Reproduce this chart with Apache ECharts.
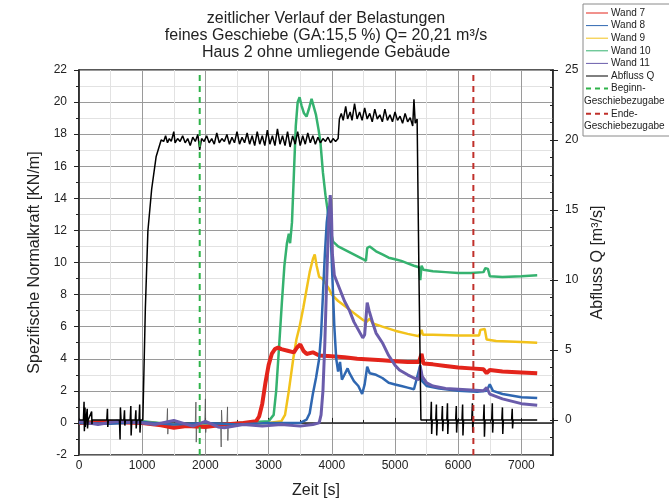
<!DOCTYPE html>
<html>
<head>
<meta charset="utf-8">
<script src="https://cdn.jsdelivr.net/npm/echarts@6/dist/echarts.min.js"></script>
<style>
  html, body { margin: 0; background: #fff; }
  #chart { width: 669px; height: 504px; }
</style>
</head>
<body>
<div id="chart"></div>
<script>
// zeit [s], werte links in KN/m, Abfluss rechts in m³/s
const wand7 = [[0,0],[500,0.05],[1000,0],[1300,-0.15],[1500,-0.3],[1700,-0.2],[2000,-0.25],[2300,-0.1],[2600,0],[2800,0.1],[2850,0.4],[2900,1.2],[2950,2.5],[3000,3.6],[3050,4.3],[3100,4.6],[3150,4.7],[3200,4.6],[3300,4.5],[3400,4.4],[3450,4.7],[3500,4.9],[3550,4.5],[3600,4.3],[3700,4.4],[3800,4.2],[4000,4.15],[4200,4.1],[4400,4.0],[4600,3.95],[4800,3.9],[5000,3.85],[5200,3.8],[5380,3.8],[5420,4.3],[5450,3.7],[5600,3.65],[5800,3.55],[6000,3.45],[6200,3.4],[6400,3.35],[6450,3.1],[6500,3.3],[6700,3.2],[7000,3.15],[7250,3.1]];
const wand8 = [[0,0],[500,-0.05],[1000,0.05],[1500,-0.1],[2000,0],[2500,-0.1],[3000,0],[3500,0],[3600,0.2],[3650,0.6],[3700,1.8],[3750,2.8],[3800,4],[3830,5.5],[3860,8],[3890,10.5],[3920,12.5],[3950,13.5],[3980,12],[4010,9],[4040,6],[4070,4],[4100,3.2],[4130,3.8],[4160,2.7],[4200,3.0],[4250,3.4],[4280,3.1],[4350,2.6],[4420,2.3],[4480,1.8],[4520,2.4],[4560,3.5],[4600,3.1],[4700,3.0],[4800,2.8],[4900,2.5],[5000,2.4],[5100,2.3],[5200,2.2],[5300,2.1],[5400,3.6],[5430,2.6],[5500,2.3],[5700,2.15],[6000,2.0],[6300,1.95],[6450,2.0],[6500,2.4],[6550,2.0],[6700,1.8],[7000,1.6],[7250,1.55]];
const wand9 = [[0,0],[1000,0.05],[1500,-0.1],[2000,-0.15],[2500,-0.05],[3000,0],[3200,0.1],[3260,0.5],[3320,2],[3390,4],[3440,5.2],[3490,6],[3550,7.2],[3600,8.3],[3650,9.4],[3700,10.2],[3730,10.5],[3760,9.8],[3800,9.1],[3850,9.0],[3900,8.7],[3950,8.4],[4000,8.0],[4100,7.6],[4200,7.3],[4300,7.0],[4400,6.7],[4500,6.4],[4550,6.3],[4600,6.5],[4650,6.2],[4800,6.0],[5000,5.75],[5200,5.55],[5380,5.4],[5420,5.8],[5440,5.5],[5600,5.5],[6000,5.45],[6330,5.45],[6350,5.8],[6420,5.85],[6450,5.2],[6600,5.1],[7000,5.05],[7250,5.0]];
const wand10 = [[0,0.1],[500,0.05],[1000,0.1],[1500,-0.1],[2000,-0.2],[2500,0],[3000,0.1],[3080,0.5],[3120,2],[3170,5],[3210,7.5],[3250,9.8],[3290,11.2],[3320,11.8],[3340,11.2],[3370,12.5],[3400,15.5],[3430,18.5],[3460,20],[3490,20.3],[3520,19.8],[3560,19.3],[3600,19.1],[3640,19.6],[3680,20.2],[3710,20.1],[3750,19.2],[3790,18.3],[3820,17.5],[3860,15.6],[3900,14.2],[3940,13.1],[3980,12],[4020,11.3],[4100,11.0],[4200,10.8],[4300,10.6],[4400,10.4],[4500,10.2],[4540,10.1],[4560,10.9],[4600,11],[4700,10.7],[4800,10.5],[4900,10.3],[5000,10.2],[5100,10.1],[5200,9.95],[5300,9.8],[5380,9.7],[5400,8.9],[5420,9.8],[5450,9.55],[5600,9.45],[5800,9.4],[6000,9.35],[6200,9.35],[6400,9.4],[6430,9.65],[6470,9.6],[6500,9.15],[6700,9.1],[7000,9.15],[7250,9.2]];
const wand11 = [[0,0.1],[300,-0.1],[600,0.1],[1000,0],[1200,-0.1],[1500,0.15],[1800,-0.2],[2000,0.1],[2200,-0.25],[2300,-0.3],[2600,-0.1],[2900,-0.2],[3200,-0.1],[3500,-0.2],[3700,-0.1],[3800,0],[3830,0.5],[3860,2],[3890,5],[3920,9],[3950,12.5],[3975,14.2],[3995,13],[4010,10.5],[4040,9.2],[4080,8.8],[4150,8.1],[4200,7.6],[4280,7.0],[4350,6.3],[4420,5.8],[4490,5.3],[4520,5.5],[4560,7.5],[4590,7.0],[4650,6.2],[4700,5.6],[4800,5.0],[4900,4.2],[5000,3.6],[5070,3.3],[5200,3.0],[5300,2.8],[5380,2.7],[5400,3.5],[5430,2.9],[5500,2.5],[5600,2.3],[5800,2.15],[6000,2.1],[6200,2.05],[6400,2.0],[6450,2.2],[6500,1.8],[6700,1.5],[7000,1.2],[7250,1.1]];
// dünne Ausreißer im Grundrauschen (links, KN/m)
const spikes = [[1390,0],[1400,0.9],[1405,-0.7],[1415,0],[1840,0],[1850,1.3],[1855,-1.2],[1865,0],[1990,0],[2000,1.5],[2005,-0.6],[2015,0],[2240,0],[2250,-1.5],[2255,0.8],[2265,0],[2340,0],[2350,1.0],[2355,-1.1],[2365,0]];
const abflussQ = [[0,0],[70,0],[80,1.3],[85,-0.8],[95,0.9],[100,-0.5],[110,0],[130,0.8],[135,-0.6],[145,0],[200,0.6],[205,-0.3],[210,0],[440,0],[450,0.8],[455,-0.5],[465,0],[640,0],[650,-1.4],[655,0.9],[665,0],[710,0],[720,0.7],[725,-0.4],[735,0],[810,0],[820,1.0],[825,-1.1],[835,0],[890,0],[900,0.7],[905,-0.6],[915,0],[950,0],[960,1.1],[965,-0.9],[975,0],[1010,0],
  [1050,8],[1090,13.5],[1150,16.5],[1220,18.8],[1300,20.0],
  [1340,19.9],[1370,20.3],[1400,19.8],[1430,20.1],[1460,19.9],[1500,20.6],[1520,19.8],[1560,20.1],[1600,19.9],[1640,20.3],[1680,19.8],[1720,20.1],[1760,19.6],[1800,20.2],[1840,19.9],[1880,20.4],[1910,19.3],[1940,20.1],[1980,19.9],[2020,20.3],[2060,19.8],[2100,20.1],[2140,19.7],[2180,20.5],[2220,19.8],[2260,20.1],[2300,19.9],[2340,20.4],[2380,19.7],[2420,20.2],[2460,19.8],[2500,20.6],[2540,19.7],[2580,20.2],[2620,19.8],[2660,20.5],[2700,19.7],[2740,20.3],[2780,19.6],[2820,20.6],[2860,19.7],[2900,20.3],[2940,19.6],[2980,20.7],[3020,19.7],[3060,20.3],[3100,19.6],[3140,20.8],[3180,19.7],[3220,20.3],[3260,19.6],[3300,20.6],[3340,19.5],[3380,20.3],[3420,19.7],[3460,20.6],[3500,19.6],[3540,20.3],[3580,19.7],[3620,20.5],[3660,19.8],[3700,20.3],[3740,19.7],[3780,20.2],[3820,19.8],[3860,20.1],[3900,19.9],[3940,20.2],[3980,19.8],[4020,20.1],[4060,19.9],[4100,20.1],
  [4120,21.5],[4150,21.9],[4180,21.4],[4220,22.4],[4250,21.5],[4290,22.0],[4320,21.4],[4360,22.6],[4400,21.5],[4440,22.0],[4480,21.4],[4520,22.3],[4560,21.5],[4600,21.9],[4640,21.3],[4680,22.2],[4720,21.5],[4760,21.8],[4800,21.3],[4840,22.2],[4880,21.4],[4920,21.8],[4960,21.3],[5000,22.0],[5040,21.4],[5080,21.7],[5120,21.2],[5160,21.9],[5200,21.3],[5240,21.6],[5280,21.0],[5300,22.9],[5320,21.2],[5350,21.5],[5380,10],[5410,0],
  [5565,0],[5575,1.3],[5580,-1.0],[5590,0],[5645,0],[5655,1.1],[5660,-1.1],[5670,0],[5740,0],[5750,1.0],[5755,-0.8],[5765,0],[5820,0],[5830,1.2],[5835,-1.0],[5845,0],[5960,0],[5970,1.0],[5975,-0.9],[5985,0],[6060,0],[6070,1.1],[6075,-1.1],[6085,0],[6215,0],[6225,1.2],[6230,-0.9],[6240,0],[6400,0],[6410,1.1],[6415,-1.2],[6425,0],[6530,0],[6540,1.2],[6545,-0.9],[6555,0],[6690,0],[6700,0.9],[6705,-1.0],[6715,0],[6845,0],[6855,0.8],[6860,-0.6],[6870,0],[7250,0]];
const beginnX = 1910;
const endeX = 6240;
const beginnLine = [[beginnX,-2],[beginnX,22]];
const endeLine = [[endeX,-2],[endeX,22]];
const qTicks = [0,5,10,15,20,25];

const font = 'Liberation Sans, Arial, sans-serif';
const colors = {
  w7: '#e3241b', w8: '#2f67b1', w9: '#f2c21b', w10: '#35b26f', w11: '#6a5cab',
  q: '#000000', beginn: '#2fb34a', ende: '#c0302b', spikes: '#555555'
};

const legendRows = [
  { text: 'Wand 7', color: colors.w7 },
  { text: 'Wand 8', color: colors.w8 },
  { text: 'Wand 9', color: colors.w9 },
  { text: 'Wand 10', color: colors.w10 },
  { text: 'Wand 11', color: colors.w11 },
  { text: 'Abfluss Q', color: colors.q },
  { text: 'Beginn-', color: colors.beginn, dash: true },
  { text: 'Geschiebezugabe', wrap: true },
  { text: 'Ende-', color: colors.ende, dash: true },
  { text: 'Geschiebezugabe', wrap: true }
];

function buildLegend() {
  const x0 = 583, y0 = 4, rowH = 12.6;
  const children = [{
    type: 'rect',
    shape: { x: x0, y: y0, width: 100, height: rowH * legendRows.length + 6 },
    style: { fill: '#fff', stroke: '#8a8a8a', lineWidth: 1 }
  }];
  legendRows.forEach((r, i) => {
    const y = y0 + 9 + i * rowH;
    if (!r.wrap) {
      children.push({
        type: 'line',
        shape: { x1: x0 + 3, y1: y, x2: x0 + 25, y2: y },
        style: { stroke: r.color, lineWidth: r.dash ? 2 : 1, lineDash: r.dash ? [5, 4] : null }
      });
    }
    children.push({
      type: 'text',
      x: r.wrap ? x0 + 1 : x0 + 28, y: y,
      style: { text: r.text, font: '10px ' + font, fill: '#222', verticalAlign: 'middle' }
    });
  });
  return [{ type: 'group', children: children }];
}

function line(name, data, color, width, yAxisIndex) {
  return {
    name: name, type: 'line', data: data, yAxisIndex: yAxisIndex || 0,
    showSymbol: false, symbol: 'none', animation: false,
    lineStyle: { color: color, width: width }, itemStyle: { color: color }
  };
}

const chart = echarts.init(document.getElementById('chart'));
chart.setOption({
  animation: false,
  textStyle: { fontFamily: font },
  title: {
    text: 'zeitlicher Verlauf der Belastungen\nfeines Geschiebe (GA:15,5 %) Q= 20,21 m³/s\nHaus 2 ohne umliegende Gebäude',
    left: 321, top: 5, textAlign: 'center',
    textStyle: { fontSize: 16, fontWeight: 'normal', color: '#222', lineHeight: 17, fontFamily: font }
  },
  grid: { left: 79, right: 116, top: 70, bottom: 48, show: true, borderColor: '#222', borderWidth: 1.5 },
  xAxis: {
    type: 'value', min: 0, max: 7500, interval: 1000,
    name: 'Zeit [s]', nameLocation: 'middle', nameGap: 28,
    nameTextStyle: { fontSize: 16, color: '#222' },
    axisLine: { lineStyle: { color: '#222', width: 1.5 } },
    axisTick: { inside: true, length: 5, lineStyle: { color: '#222' } },
    minorTick: { show: true, splitNumber: 2, length: 3, lineStyle: { color: '#222' } },
    axisLabel: { fontSize: 12, color: '#222', margin: 5, formatter: v => (v % 1000 === 0 ? v : '') },
    splitLine: { lineStyle: { color: '#9a9a9a', width: 1 } },
    minorSplitLine: { show: true, lineStyle: { color: '#e2e2e2', width: 1 } }
  },
  yAxis: [{
    type: 'value', min: -2, max: 22, interval: 2,
    name: 'Spezifische Normalkraft [KN/m]', nameLocation: 'middle', nameGap: 35,
    nameTextStyle: { fontSize: 16, color: '#222' },
    axisLine: { show: true, lineStyle: { color: '#222', width: 1.5 } },
    axisTick: { show: true, length: 5, lineStyle: { color: '#222' } },
    minorTick: { show: true, splitNumber: 2, length: 3, lineStyle: { color: '#222' } },
    axisLabel: { fontSize: 12, color: '#222', margin: 12 },
    splitLine: { lineStyle: { color: '#9a9a9a', width: 1 } },
    minorSplitLine: { show: true, lineStyle: { color: '#e2e2e2', width: 1 } }
  }, {
    type: 'value', position: 'right', min: -2.5, max: 25,
    name: 'Abfluss Q [m³/s]', nameLocation: 'middle', nameGap: 36, nameRotate: 90,
    nameTextStyle: { fontSize: 16, color: '#222' },
    axisLine: { show: true, lineStyle: { color: '#222', width: 1.5 } },
    axisTick: { show: true, length: 5, customValues: qTicks, lineStyle: { color: '#222' } },
    axisLabel: { fontSize: 12, color: '#222', margin: 12, customValues: qTicks },
    splitLine: { show: false }
  }, {
    type: 'value', position: 'right', min: -2.5, max: 25, interval: 1.25,
    axisLine: { show: false },
    axisTick: { show: true, inside: true, length: 3, lineStyle: { color: '#222' } },
    axisLabel: { show: false },
    splitLine: { show: false }
  }],
  graphic: buildLegend(),
  series: [
    line('Ausreißer', spikes, colors.spikes, 0.8),
    line('Wand 10', wand10, colors.w10, 2.5),
    line('Wand 9', wand9, colors.w9, 2.5),
    line('Wand 7', wand7, colors.w7, 4),
    line('Wand 8', wand8, colors.w8, 2.5),
    line('Wand 11', wand11, colors.w11, 3),
    line('Abfluss Q', abflussQ, colors.q, 1.5, 1),
    Object.assign(line('Beginn-Geschiebezugabe', beginnLine, colors.beginn, 2),
      { lineStyle: { color: colors.beginn, width: 2, type: [6, 5] } }),
    Object.assign(line('Ende-Geschiebezugabe', endeLine, colors.ende, 2),
      { lineStyle: { color: colors.ende, width: 2, type: [6, 5] } })
  ]
});
</script>
</body>
</html>
